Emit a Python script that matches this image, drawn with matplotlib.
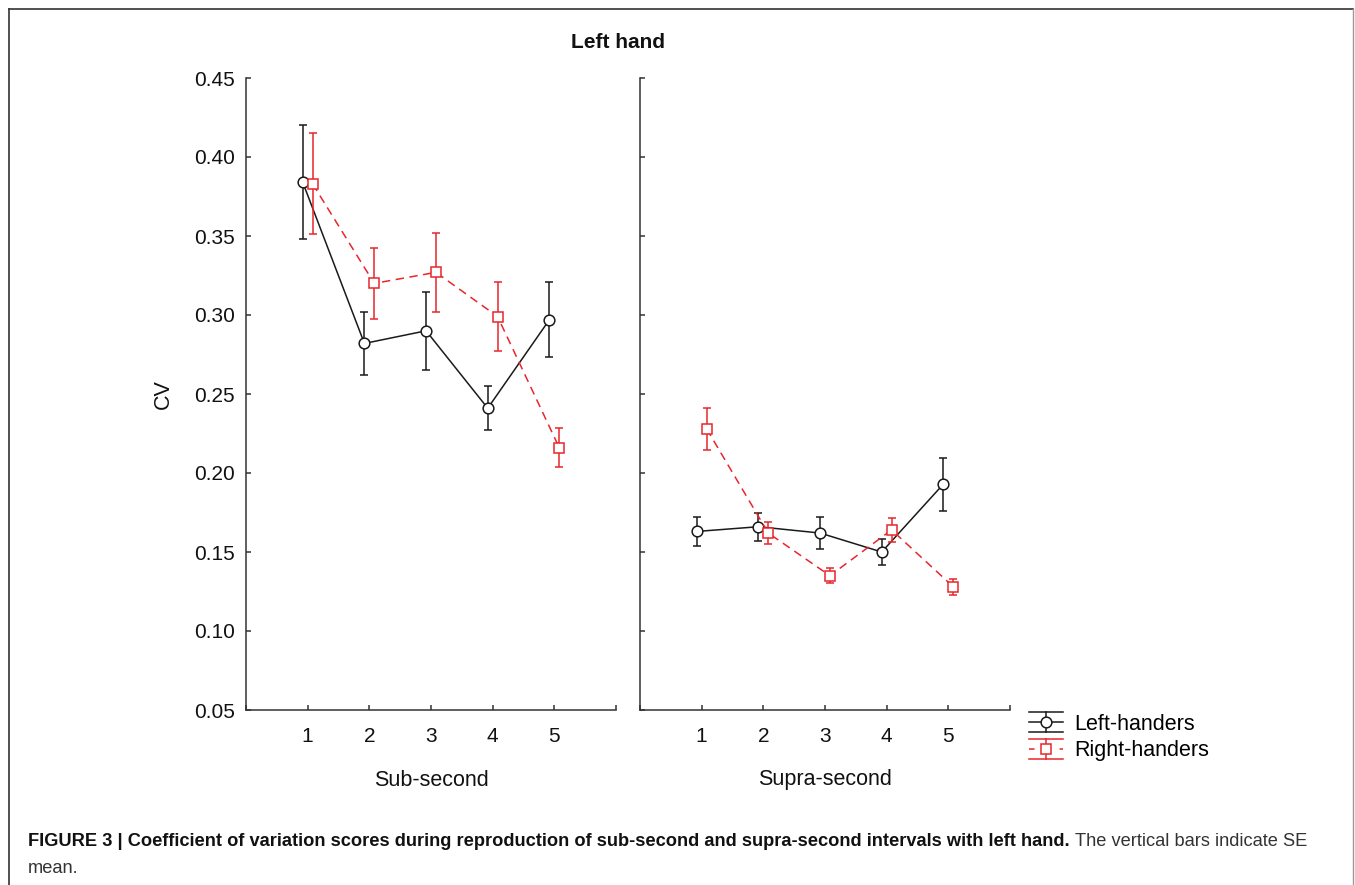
import matplotlib
matplotlib.use("Agg")
import matplotlib.pyplot as plt
from matplotlib.lines import Line2D
from matplotlib.legend_handler import HandlerBase
from matplotlib.container import ErrorbarContainer
from matplotlib import font_manager as fm

# ---------------- data ----------------
conditions = [1, 2, 3, 4, 5]
sub_left_mean = [0.384, 0.282, 0.290, 0.241, 0.297]
sub_left_se = [0.036, 0.020, 0.0245, 0.014, 0.0236]
sub_right_mean = [0.383, 0.320, 0.327, 0.299, 0.216]
sub_right_se = [0.032, 0.0224, 0.025, 0.0216, 0.0124]
supra_left_mean = [0.163, 0.166, 0.162, 0.150, 0.193]
supra_left_se = [0.0089, 0.0089, 0.010, 0.008, 0.0168]
supra_right_mean = [0.228, 0.162, 0.135, 0.164, 0.128]
supra_right_se = [0.0134, 0.007, 0.0049, 0.0075, 0.005]
y_ticks = [0.05, 0.10, 0.15, 0.20, 0.25, 0.30, 0.35, 0.40, 0.45]
x_ticks = [0, 1, 2, 3, 4, 5, 6]
x_ticklabels = ["", "1", "2", "3", "4", "5", ""]
group_labels = ["Left-handers", "Right-handers"]
panel_labels = ["Sub-second", "Supra-second"]

# ---------------- style ----------------
plt.rcParams["font.family"] = ["Liberation Sans", "DejaVu Sans"]
plt.rcParams["lines.scale_dashes"] = False
W, H = 1355, 885
BLACK = "#1a1a1a"
RED = "#e8262c"
SPINE = "#333333"
OFF = 0.08

fig = plt.figure(figsize=(W / 100, H / 100), dpi=100)

def fx(px):
    return px / W

def fy(py):
    return 1 - py / H

ax1 = fig.add_axes([fx(246), fy(710), 370 / W, 632 / H])
ax2 = fig.add_axes([fx(640), fy(710), 370 / W, 632 / H])

def draw(ax, lm, ls_, rm, rs):
    xl = [c - OFF for c in conditions]
    xr = [c + OFF for c in conditions]
    cl = ax.errorbar(xl, lm, yerr=ls_, fmt="-o", color=BLACK, mfc="white",
                     mec=BLACK, ms=7.7, mew=1.1, lw=1.1, elinewidth=1.1,
                     capsize=3, capthick=1.1, zorder=3)
    cr = ax.errorbar(xr, rm, yerr=rs, fmt="--s", color=RED, mfc="white",
                     mec=RED, ms=7.2, mew=1.1, lw=1.1, elinewidth=1.1,
                     capsize=3, capthick=1.1, zorder=4)
    cr.lines[0].set_dashes([6, 4])
    ax.set_xlim(0, 6)
    ax.set_ylim(0.05, 0.45)
    ax.set_xticks(x_ticks)
    ax.set_xticklabels(x_ticklabels)
    ax.set_yticks(y_ticks)
    for s in ["top", "right"]:
        ax.spines[s].set_visible(False)
    for s in ["left", "bottom"]:
        ax.spines[s].set_color(SPINE)
        ax.spines[s].set_linewidth(1.1)
    ax.tick_params(axis="both", direction="in", length=3.5, width=1.1,
                   color=SPINE, labelsize=15, labelcolor="#111111")
    ax.tick_params(axis="x", pad=12)
    ax.tick_params(axis="y", pad=8)
    return cl, cr

cl, cr = draw(ax1, sub_left_mean, sub_left_se, sub_right_mean, sub_right_se)
draw(ax2, supra_left_mean, supra_left_se, supra_right_mean, supra_right_se)
ax1.set_yticklabels([f"{v:.2f}" for v in y_ticks])
ax2.set_yticklabels([])

ax1.set_xlabel(panel_labels[0], fontsize=15.5, va="center", color="#111111")
ax1.xaxis.set_label_coords(0.5, (710 - 780) / 632)
ax2.set_xlabel(panel_labels[1], fontsize=15.5, va="center", color="#111111")
ax2.xaxis.set_label_coords(0.5, (710 - 780) / 632)
ax1.set_ylabel("CV", fontsize=15.5, va="center", color="#111111")
ax1.yaxis.set_label_coords((163 - 246) / 370, 0.5)

fig.text(fx(618), fy(43), "Left hand", ha="center", va="center",
         fontsize=15, fontweight="bold", color="#111111")

# ---------------- legend ----------------
class ErrHandler(HandlerBase):
    def create_artists(self, legend, orig_handle, xdescent, ydescent,
                       width, height, fontsize, trans):
        ln = orig_handle.lines[0]
        col = ln.get_color()
        x0, x1 = -xdescent, -xdescent + width
        xm = (x0 + x1) / 2
        cy = height / 2 - ydescent
        dy = 7.2
        mid = Line2D([x0, x1], [cy, cy], color=col, lw=1.1)
        if ln.get_linestyle() in ("--", "dashed"):
            mid.set_dashes([4, 7])
        top = Line2D([x0, x1], [cy + dy, cy + dy], color=col, lw=1.1)
        bot = Line2D([x0, x1], [cy - dy, cy - dy], color=col, lw=1.1)
        vert = Line2D([xm, xm], [cy - dy, cy + dy], color=col, lw=1.1)
        mk = Line2D([xm], [cy], marker=ln.get_marker(), ms=ln.get_markersize(),
                    mfc="white", mec=col, mew=1.1, ls="none")
        arts = [mid, top, bot, vert, mk]
        for a in arts:
            a.set_transform(trans)
        return arts

fig.legend(handles=[cl, cr], labels=group_labels,
           handler_map={ErrorbarContainer: ErrHandler()},
           loc="upper left", bbox_to_anchor=(fx(1029), fy(714)),
           frameon=False, borderpad=0, borderaxespad=0, fontsize=15.5,
           handlelength=1.58, handletextpad=0.5, labelspacing=0.25)

# ---------------- frame ----------------
fig.add_artist(Line2D([fx(9), fx(9)], [fy(9), 0], transform=fig.transFigure,
                      color="#333333", lw=1.2))
fig.add_artist(Line2D([fx(9), fx(1353)], [fy(9), fy(9)], transform=fig.transFigure,
                      color="#333333", lw=1.2))
fig.add_artist(Line2D([fx(1353), fx(1353)], [fy(9), 0], transform=fig.transFigure,
                      color="#999999", lw=1.0))

# ---------------- caption ----------------
def has_font(name):
    try:
        fm.findfont(fm.FontProperties(family=name), fallback_to_default=False)
        return True
    except Exception:
        return False

cap_family = "Liberation Sans Narrow" if has_font("Liberation Sans Narrow") else "Liberation Sans"
bold_txt = ("FIGURE 3 | Coefficient of variation scores during reproduction of "
            "sub-second and supra-second intervals with left hand.")
reg_txt = "The vertical bars indicate SE"

fig.canvas.draw()
renderer = fig.canvas.get_renderer()
size = 12.5
t1 = fig.text(fx(28), fy(846), bold_txt, ha="left", va="baseline",
              fontsize=size, fontweight="bold", family=cap_family, color="#111111")
bb = t1.get_window_extent(renderer)
target = 1072 - 28
size = size * target / bb.width
t1.set_fontsize(size)
bb = t1.get_window_extent(renderer)
t2 = fig.text((bb.x1 + 5) / W, fy(846), reg_txt, ha="left", va="baseline",
              fontsize=12, color="#333333")
bb2 = t2.get_window_extent(renderer)
rsize = 12 * (1307 - (bb.x1 + 5)) / bb2.width
t2.set_fontsize(rsize)
fig.text(fx(28), fy(873), "mean.", ha="left", va="baseline",
         fontsize=rsize, color="#333333")

fig.savefig("out.png", dpi=100)
